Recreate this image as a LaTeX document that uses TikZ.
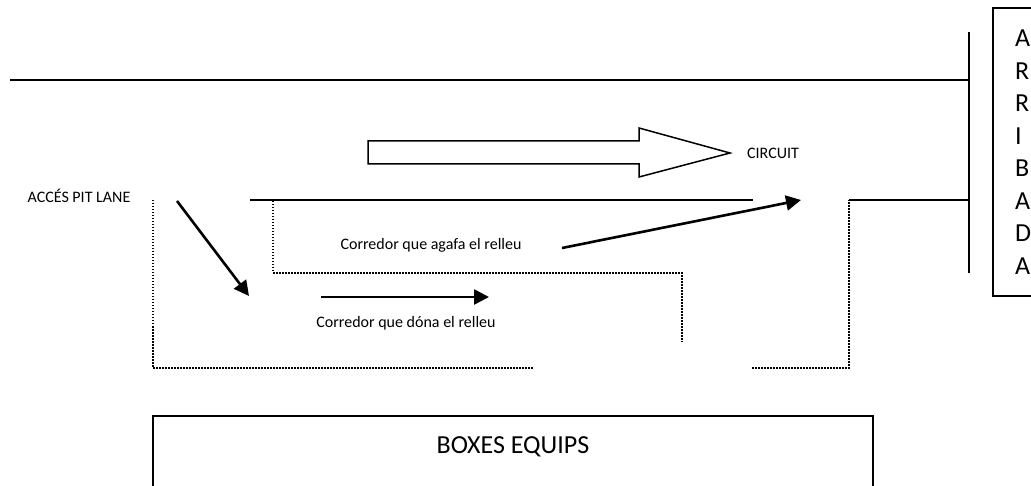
\documentclass[tikz,border=0pt]{standalone}
\usepackage{fontspec}
\setmainfont{Carlito}
\usetikzlibrary{arrows.meta}
\begin{document}
\begin{tikzpicture}[x=1pt,y=-1pt,
  wall/.style={line width=1.5pt},
  dots/.style={line width=1.3pt, dash pattern=on 1.5pt off 1.5pt},
  runner/.style={line width=2.6pt, -{Triangle[length=15pt,width=15pt]}},
  small/.style={font=\fontsize{16}{19}\selectfont, inner sep=0pt, anchor=base},
  big/.style={font=\fontsize{26}{32}\selectfont, inner sep=0pt, anchor=base}]
\useasboundingbox (0,0) rectangle (1031,486);
\clip (0,0) rectangle (1031,486);
\draw[wall] (10,80) -- (969,80);
\draw[line width=2pt] (969,32) -- (969,273);
\draw[wall] (250,200) -- (753,200);
\draw[wall] (849,200) -- (969,200);
\draw[wall] (993,8) rectangle (1040,296);
\draw[wall] (153,416) rectangle (873,500);
\draw[wall] (368,141) -- (639,141) -- (639,128) -- (730,153) -- (639,177) -- (639,164) -- (368,164) -- cycle;
\draw[dots] (153,200) -- (153,368) -- (533,368);
\draw[dots] (752,368) -- (849,368) -- (849,200);
\draw[dots] (273,201) -- (273,273) -- (682,273) -- (682,342);
\node[small] (acces) at (79,202.5) {ACCÉS PIT LANE};
\node[small] (circuit) at (773,159) {CIRCUIT};
\node[small] (agafa) at (431,250) {Corredor que agafa el relleu};
\node[small] (dona) at (406,327) {Corredor que dóna el relleu};
\node[big] (boxes) at (513,453) {BOXES EQUIPS};
\foreach \c [count=\i from 0] in {A,R,R,I,B,A,D,A}
  \node[big, anchor=base west] (arr\i) at (1015,46.7+32.5*\i) {\c};
\coordinate (entra) at (177,201);
\coordinate (entrafi) at (249,296);
\coordinate (dona0) at (321,297);
\coordinate (dona1) at (489,297);
\coordinate (agafa0) at (562,248);
\coordinate (agafa1) at (801,200);
\draw[runner] (entra) -- (entrafi);
\draw[runner] (dona0) -- (dona1);
\draw[runner] (agafa0) -- (agafa1);
\end{tikzpicture}
\end{document}
